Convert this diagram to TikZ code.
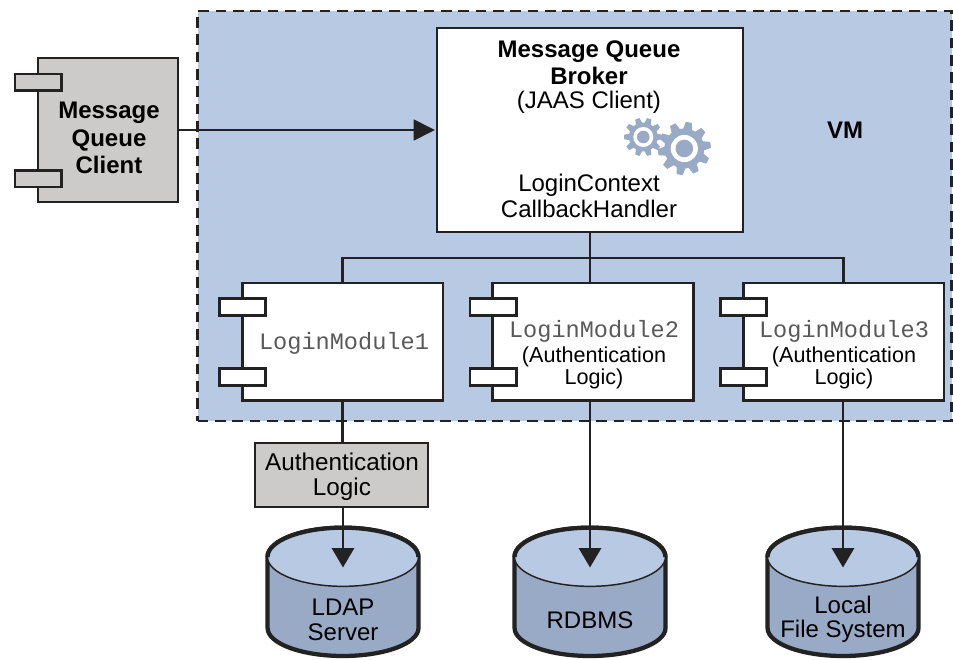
\documentclass[tikz,border=0pt]{standalone}
\usepackage{fontspec}
\setmainfont{Liberation Sans}
\setmonofont{Liberation Mono}
\usetikzlibrary{arrows.meta}
\definecolor{vmblue}{HTML}{B8C9E4}
\definecolor{dkblue}{HTML}{98AAC6}
\definecolor{boxgrey}{HTML}{CCCBC9}
\definecolor{ink}{HTML}{222222}
\newcommand{\gearshape}[6]{% x y outer root teeth rotation
  \begin{scope}[shift={(#1,#2)},rotate=#6]
    \fill[dkblue]
      \foreach \i in {1,...,#5}{
        \ifnum\i=1 (360/#5*\i-360/#5*0.36:#4 pt) \else -- (360/#5*\i-360/#5*0.36:#4 pt) \fi
        -- (360/#5*\i-360/#5*0.18:#3 pt)
        -- (360/#5*\i+360/#5*0.18:#3 pt)
        -- (360/#5*\i+360/#5*0.36:#4 pt)
      } -- cycle;
  \end{scope}}
\newcommand{\dbshape}[1]{%
  \draw[line width=3.2pt,ink,fill=dkblue] (#1-75.5,557)
    arc[start angle=180,end angle=0,x radius=56.6pt,y radius=22pt]
    -- (#1+75.5,628) arc[start angle=0,end angle=-180,x radius=56.6pt,y radius=21pt] -- cycle;
  \fill[vmblue] (#1-75.5,557) arc[start angle=180,end angle=360,x radius=56.6pt,y radius=22pt]
    arc[start angle=0,end angle=180,x radius=56.6pt,y radius=22pt] -- cycle;
  \draw[line width=1.1pt,ink] (#1-75.5,557) arc[start angle=180,end angle=360,x radius=56.6pt,y radius=22pt];
  \draw[line width=3.2pt,ink] (#1-75.5,557) arc[start angle=180,end angle=0,x radius=56.6pt,y radius=22pt];
}
\tikzset{
  box/.style={draw=ink,line width=2pt,inner sep=0pt,outer sep=0pt},
  port/.style={box,minimum width=34.75pt,minimum height=12.5pt},
  modbox/.style={box,fill=white,minimum width=150.5pt,minimum height=88pt},
  wire/.style={draw=ink,line width=2pt},
  arrowwire/.style={wire,-{Triangle[length=14.5pt,width=16.5pt]}},
  sidearrow/.style={draw=ink,line width=2pt,shorten >=1.5pt,-{Triangle[length=16pt,width=15.5pt]}},
  txt/.style={inner sep=0pt,align=center,font=\fontsize{18pt}{20pt}\selectfont,text=black},
  basetxt/.style={txt,font=\fontsize{18pt}{18.3pt}\selectfont},
  smalltxt/.style={txt,font=\fontsize{16.2pt}{16.5pt}\selectfont},
  boldtxt/.style={txt,font=\fontsize{18pt}{20.5pt}\selectfont\bfseries},
  monotxt/.style={txt,font=\fontsize{17.7pt}{19.5pt}\selectfont\ttfamily,text=black!65}
}
\begin{document}
\begin{tikzpicture}[x=0.75pt,y=-0.75pt]
\useasboundingbox (0,0) rectangle (953,660);
\fill[white] (0,0) rectangle (953,660);
% VM region
\node[draw=ink,fill=vmblue,line width=2pt,dash pattern=on 8pt off 5pt,minimum width=565.5pt,minimum height=307.5pt,inner sep=0pt] (vm) at (574.5,216) {};
\node[boldtxt] (vmlabel) at (845,130) {VM};
% Client
\node[box,fill=boxgrey,minimum width=105pt,minimum height=108pt] (client) at (108,130) {};
\node[port,fill=boxgrey] (cp1) at (38,82.5) {};
\node[port,fill=boxgrey] (cp2) at (38,178.5) {};
\node[boldtxt] (clientlabel) at (109,138) {Message\\Queue\\Client};
% Broker
\node[box,fill=white,minimum width=229.5pt,minimum height=153pt] (broker) at (590,130) {};
\node[boldtxt,anchor=north] (brokertitle) at (589,40.5) {Message Queue\\Broker};
\node[txt] (jaas) at (589,102.5) {(JAAS Client)};
\node[txt] (ctx) at (589,196) {LoginContext\\CallbackHandler};
\gearshape{643.3}{137}{14.5}{10.8}{10}{0}
\fill[white] (643.3,137) circle[radius=7.5pt];
\fill[dkblue] (643.3,137) circle[radius=4.7pt];
\gearshape{684.3}{148.5}{20}{15}{10}{8}
\fill[white] (684.3,148.5) circle[radius=10.2pt];
\fill[dkblue] (684.3,148.5) circle[radius=6.6pt];
% Modules
\node[modbox] (m1) at (342.5,341.5) {};
\node[port,fill=white] (m1a) at (242.5,307) {};
\node[port,fill=white] (m1b) at (242.5,377) {};
\node[monotxt] (m1t) at (344,343) {LoginModule1};
\node[modbox] (m2) at (593,341.5) {};
\node[port,fill=white] (m2a) at (493,307) {};
\node[port,fill=white] (m2b) at (493,377) {};
\node[monotxt] (m2t) at (594,331) {LoginModule2};
\node[smalltxt] (m2l) at (594,368) {(Authentication\\Logic)};
\node[modbox] (m3) at (843.5,341.5) {};
\node[port,fill=white] (m3a) at (743.5,307) {};
\node[port,fill=white] (m3b) at (743.5,377) {};
\node[monotxt] (m3t) at (844,331) {LoginModule3};
\node[smalltxt] (m3l) at (844,368) {(Authentication\\Logic)};
% Bus
\coordinate (busmid) at (590,258);
\coordinate (busl) at (342.5,258);
\coordinate (busr) at (843.5,258);
\draw[wire] (broker.south) -- (busmid);
\draw[wire] (busmid) -- (m2.north -| busmid);
\draw[wire] (m1.north) -- (busl) -- (busr) -- (m3.north);
% Auth logic
\node[box,fill=boxgrey,minimum width=129.75pt,minimum height=48pt] (auth) at (341.5,475) {};
\node[txt,font=\fontsize{18.2pt}{18.8pt}\selectfont] (authl) at (342,477) {Authentication\\Logic};
\draw[wire] (m1.south) -- (auth.north -| m1.south);
% Databases
\dbshape{343}
\dbshape{590}
\dbshape{843}
\coordinate (t1) at (343,567.5);
\coordinate (t2) at (590,567.5);
\coordinate (t3) at (843,567.5);
\draw[arrowwire] (auth.south -| t1) -- (t1);
\draw[arrowwire] (m2.south -| t2) -- (t2);
\draw[arrowwire] (m3.south -| t3) -- (t3);
\draw[sidearrow] (client.east |- broker.west) -- (broker.west);
\node[basetxt] (ldap) at (343,620) {LDAP\\Server};
\node[basetxt] (rdbms) at (590,620) {RDBMS};
\node[basetxt] (lfs) at (843,619) {Local\\File System};
\end{tikzpicture}
\end{document}
